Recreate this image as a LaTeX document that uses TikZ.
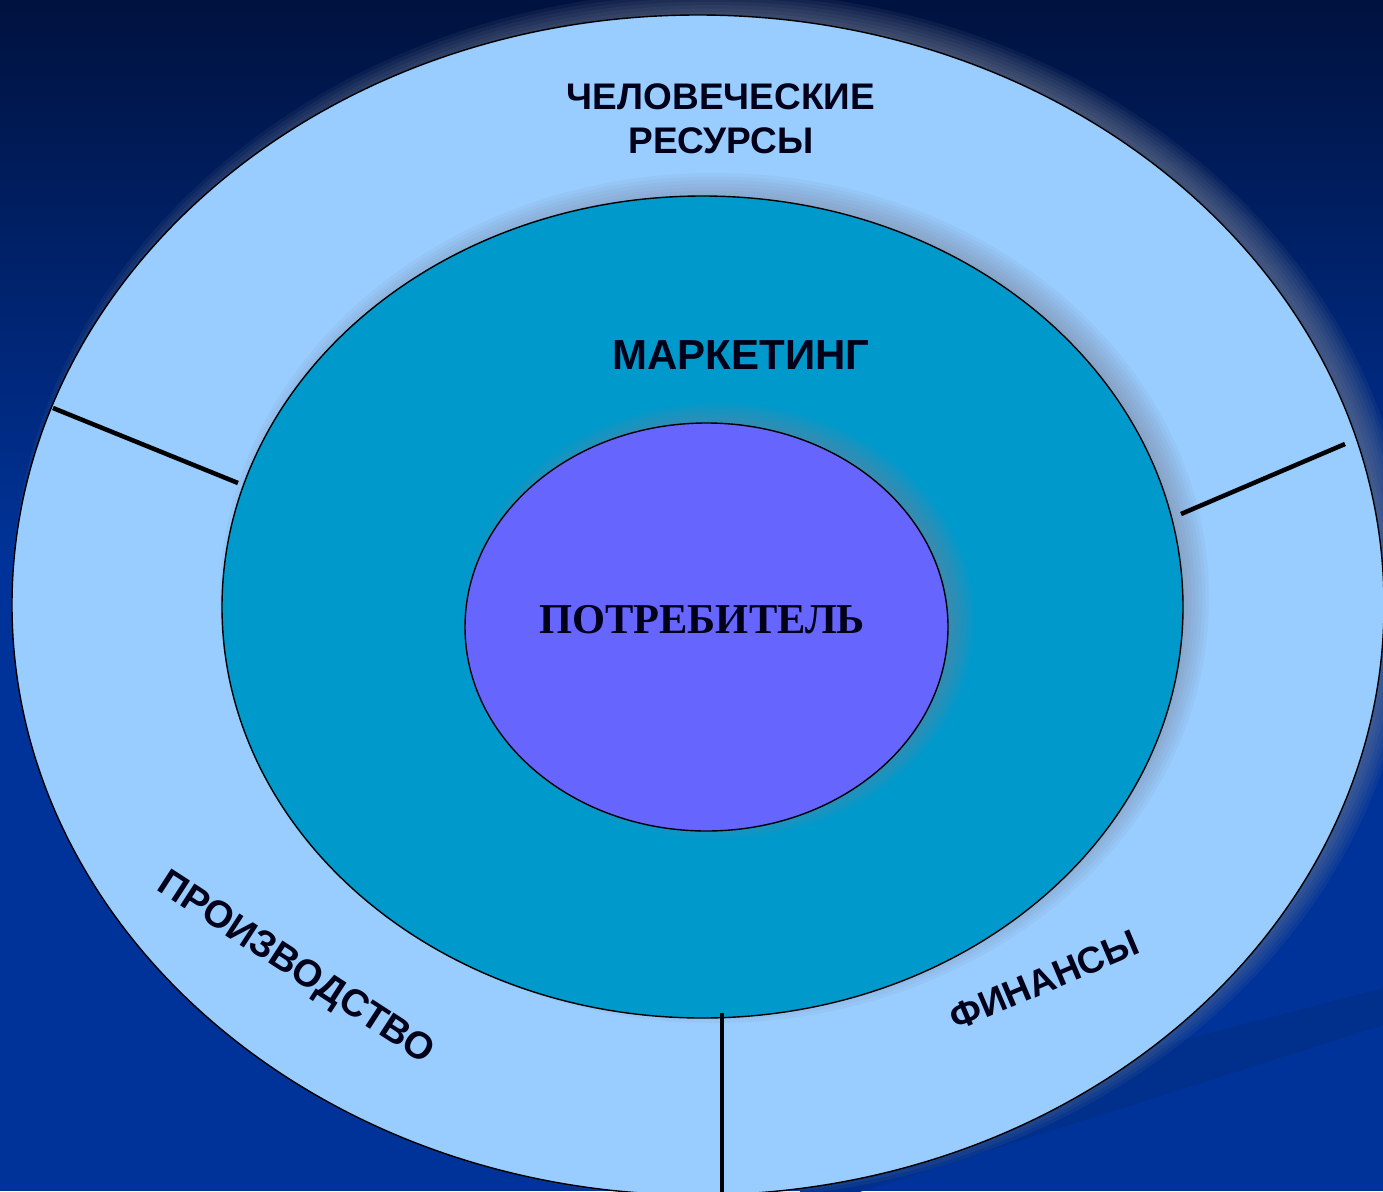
\documentclass[tikz,border=0pt]{standalone}
\usepackage{fontspec}
\setmainfont{Liberation Sans}
\newfontfamily\serifbold{Liberation Serif}
\definecolor{bgtop}{HTML}{00123F}
\definecolor{bgbot}{HTML}{003399}
\definecolor{bandcol}{HTML}{00308C}
\definecolor{outerfill}{HTML}{99CCFF}
\definecolor{midfill}{HTML}{0099CC}
\definecolor{corefill}{HTML}{6666FF}
\definecolor{shadowcol}{HTML}{7A8296}
\newcommand\softshadow[7]{% cx cy rx ry dx dy opacity
  \foreach \k in {0,...,7}{%
    \fill[shadowcol, opacity=#7] ({#1+#5},{#2+#6}) ellipse [x radius={#3+14-3.5*\k}, y radius={#4+14-3.5*\k}];
  }%
}
\tikzset{
  ring/.style={draw=black, line width=1.4pt},
  sepline/.style={draw=black, line width=4.5pt},
  outerlabel/.style={font=\bfseries\fontsize{37}{44}\selectfont, inner sep=0pt, text=black!90!blue},
}
\begin{document}
\begin{tikzpicture}[x=1pt,y=-1pt]
\useasboundingbox (0,0) rectangle (1383,1191);
\clip (0,0) rectangle (1383,1191);
% background
\fill[bgbot] (0,0) rectangle (1383,1191);
\shade[top color=bgtop, bottom color=bgbot] (0,0) rectangle (1383,560);
\fill[bandcol] (800,1139) -- (1383,988) -- (1383,1025) -- (800,1211) -- cycle;
% outer ring
\softshadow{698}{605}{686}{590}{14}{-10}{0.095}
\fill[outerfill, ring] (698,605) ellipse [x radius=686, y radius=590];
% marketing
\softshadow{702.5}{607}{480.5}{411}{12}{-9}{0.08}
\fill[midfill, ring] (702.5,607) ellipse [x radius=480.5, y radius=411];
% consumer
\softshadow{706.5}{627}{241.5}{204}{12}{-6}{0.08}
\fill[corefill, ring] (706.5,627) ellipse [x radius=241.5, y radius=204];
% separators
\coordinate (lo) at (53,408);
\coordinate (li) at (238,483);
\coordinate (ri) at (1181,514);
\coordinate (ro) at (1345,444);
\coordinate (bi) at (722,1013);
\coordinate (bo) at (722,1195);
\draw[sepline] (lo) -- (li);
\draw[sepline] (ri) -- (ro);
\draw[sepline] (bi) -- (bo);
% labels
\node[outerlabel, align=center] (hr) at (721,119) {ЧЕЛОВЕЧЕСКИЕ\\РЕСУРСЫ};
\node[font=\bfseries\fontsize{42}{50}\selectfont, inner sep=0pt, anchor=base, text=black!90!blue] (mk) at (741,369) {МАРКЕТИНГ};
\node[font=\serifbold\bfseries\fontsize{42.5}{50}\selectfont, inner sep=0pt, anchor=base, text=black!90!blue] (cs) at (702,633) {ПОТРЕБИТЕЛЬ};
\node[outerlabel, font=\bfseries\fontsize{38}{44}\selectfont, anchor=base, rotate=-33] (pr) at (290,977) {ПРОИЗВОДСТВО};
\node[outerlabel, anchor=base, rotate=23] (fn) at (1049,992) {ФИНАНСЫ};
\end{tikzpicture}
\end{document}
